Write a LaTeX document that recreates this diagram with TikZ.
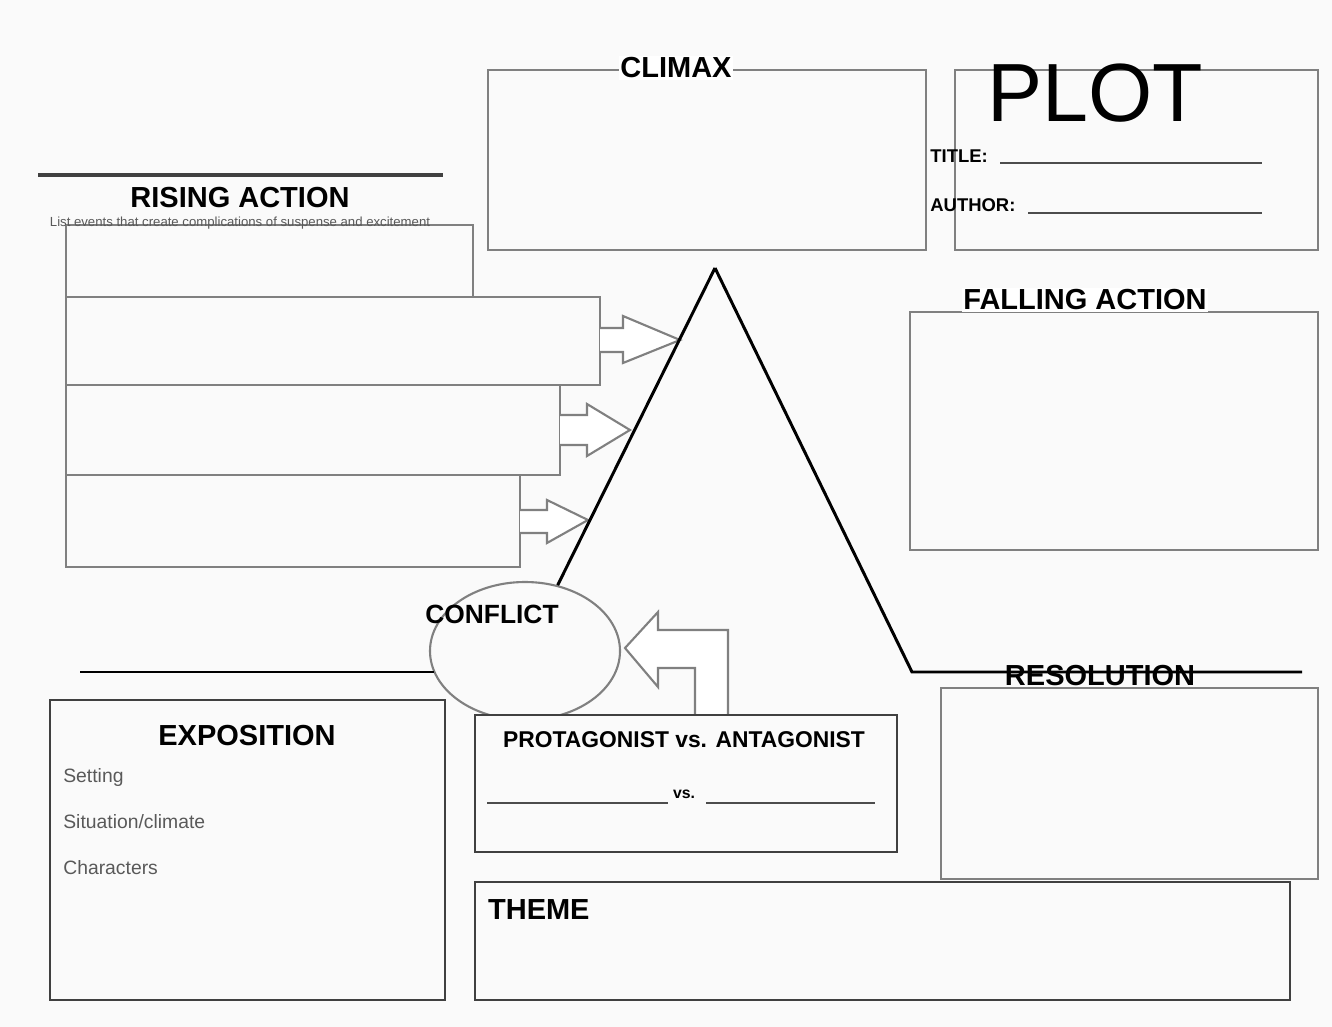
\documentclass[tikz,border=0pt]{standalone}
\usepackage{fontspec}
\setmainfont{Liberation Sans}
\usetikzlibrary{shapes.geometric}
\begin{document}
\begin{tikzpicture}[x=0.02cm,y=-0.02cm,
    box/.style={draw=black!50,line width=1.3pt},
    darkbox/.style={draw=black!75,line width=1.4pt},
    heading/.style={font=\fontsize{16.5}{18}\selectfont\bfseries,inner sep=1pt},
    small/.style={font=\fontsize{11}{12}\selectfont,text=gray!70!black,inner sep=0pt,anchor=west},
    plotline/.style={black,line width=1.7pt},
    blockarrow/.style={draw=black!50,line width=1.2pt,fill=white,line join=miter}]
  % Page
  \useasboundingbox[fill=gray!4] (0,0) rectangle (1332,1027);
  % Climax box
  \draw[box] (488,70) rectangle (926,250);
  \node[heading,fill=white] (climax) at (676,68) {CLIMAX};
  % Title block
  \draw[box] (955,70) rectangle (1318,250);
  \node[font=\fontsize{47}{50}\selectfont] (plot) at (1095,93) {PLOT};
  \node[font=\fontsize{10.5}{12}\selectfont\bfseries,anchor=west,inner sep=0pt] (title) at (930,156) {TITLE:};
  \node[font=\fontsize{10.5}{12}\selectfont\bfseries,anchor=west,inner sep=0pt] (author) at (930,205) {AUTHOR:};
  \draw[gray!60!black,line width=1pt] (1000,163) -- (1262,163);
  \draw[gray!60!black,line width=1pt] (1028,213) -- (1262,213);
  % Rising action
  \draw[gray!50!black,line width=1.8pt] (38,175) -- (443,175);
  \node[heading] (rising) at (240,198) {RISING ACTION};
  \draw[box] (66,225) rectangle (473,297);
  \draw[box] (66,297) rectangle (600,385);
  \draw[box] (66,385) rectangle (560,475);
  \draw[box] (66,475) rectangle (520,567);
  \node[font=\fontsize{7.5}{8}\selectfont,text=gray!70!black,inner sep=0pt] (risingnote) at (240,223) {List events that create complications of suspense and excitement};
  % Arrows into the rising leg
  \draw[blockarrow] (600,328) -- (623,328) -- (623,316) -- (680,340) -- (623,363) -- (623,352) -- (600,352);
  \draw[blockarrow] (560,415) -- (587,415) -- (587,404) -- (630,430) -- (587,456) -- (587,445) -- (560,445);
  \draw[blockarrow] (520,510) -- (547,510) -- (547,500) -- (588,520) -- (547,543) -- (547,533) -- (520,533);
  % Plot line
  \coordinate (apex) at (715,268);
  \coordinate (knee) at (912,672);
  \coordinate (lineend) at (1302,672);
  \node[draw=black!50,line width=1.2pt,ellipse,minimum width=190*0.02cm,minimum height=138*0.02cm] (conflict) at (525,651) {};
  \draw[plotline] (apex) -- (conflict);
  \draw[plotline] (apex) -- (knee) -- (lineend);
  \draw[plotline] (80,672) -- (434,672);
  \node[heading,font=\fontsize{15}{16}\selectfont\bfseries] (conflictlbl) at (492,614) {CONFLICT};
  % Falling action
  \draw[box] (910,312) rectangle (1318,550);
  \node[heading,fill=white] (falling) at (1085,300) {FALLING ACTION};
  % Resolution
  \draw[box] (941,688) rectangle (1318,879);
  \node[heading] (resolution) at (1100,676) {RESOLUTION};
  % Exposition
  \draw[darkbox] (50,700) rectangle (445,1000);
  \node[heading] (exposition) at (247,736) {EXPOSITION};
  \node[small] (setting) at (63,777) {Setting};
  \node[small] (situation) at (63,822) {Situation/climate};
  \node[small] (characters) at (63,868) {Characters};
  % Protagonist vs antagonist
  \draw[blockarrow] (728,715) -- (728,630) -- (658,630) -- (658,612) -- (625,648) -- (658,687) -- (658,668) -- (695,668) -- (695,715);
  \draw[darkbox,fill=gray!4] (475,715) rectangle (897,852);
  \node[font=\fontsize{13}{14}\selectfont\bfseries] (versus) at (684,740) {PROTAGONIST vs. ANTAGONIST};
  \node[font=\fontsize{9}{10}\selectfont\bfseries,inner sep=1pt] (vs) at (684,794) {vs.};
  \draw[gray!60!black,line width=1pt] (487,803) -- (668,803);
  \draw[gray!60!black,line width=1pt] (706,803) -- (875,803);
  % Theme
  \draw[darkbox] (475,882) rectangle (1290,1000);
  \node[heading,anchor=west] (theme) at (486,910) {THEME};
\end{tikzpicture}
\end{document}
